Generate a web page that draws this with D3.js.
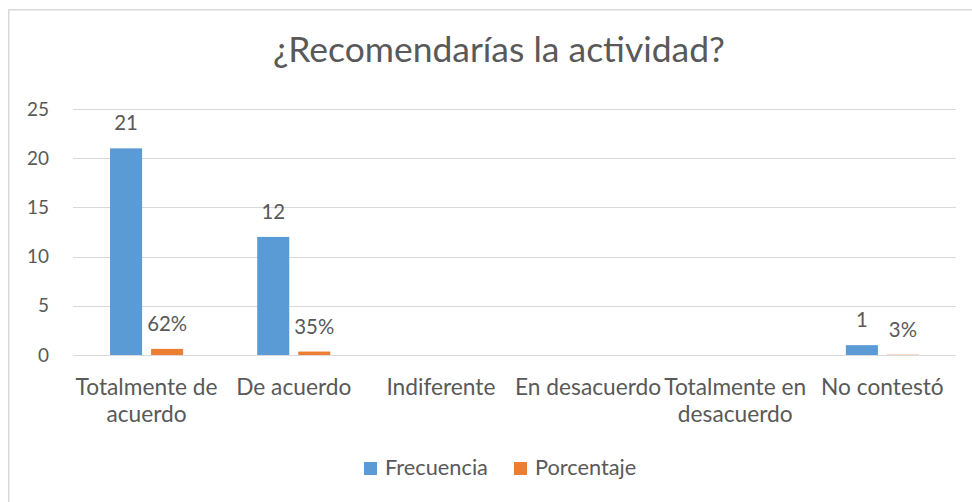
<!DOCTYPE html>
<html><head><meta charset="utf-8">
<script src="https://cdn.jsdelivr.net/npm/d3@7"></script>
<style>html,body{margin:0;padding:0;background:#fff;overflow:hidden}</style>
</head><body>
<svg id="chart" width="972" height="502"></svg>
<script>
const title = "¿Recomendarías la actividad?";
const categories = ["Totalmente de acuerdo","De acuerdo","Indiferente","En desacuerdo","Totalmente en desacuerdo","No contestó"];
const seriesNames = ["Frecuencia","Porcentaje"];
const frecuencia = [21, 12, null, null, null, 1];
const porcentaje = [0.62, 0.35, null, null, null, 0.03];
const yTicks = [0, 5, 10, 15, 20, 25];
const colors = ["#5b9bd5", "#ed7d31"];

(function () {
const FONT = "Lato, 'Open Sans', sans-serif";
const TEXT = "#595959";
const svg = d3.select("#chart");

function fitSize(sample, target) {
  const t = svg.append("text").attr("font-family", FONT).attr("font-size", 100).text(sample);
  const w = t.node().getComputedTextLength();
  t.remove();
  return 100 * target / w;
}
const titleSize = fitSize(title, 452);
const axisSize = fitSize("Totalmente de", 142);
const tickSize = fitSize("25", 22);
const dataSize = fitSize("62%", 40);
const legendSize = fitSize("Frecuencia", 103);

svg.append("rect").attr("x", 8.75).attr("y", 9.75).attr("width", 1100).attr("height", 700)
  .attr("fill", "#fff").attr("stroke", "#d9d9d9").attr("stroke-width", 1.5);

const pL = 73, pR = 956, pT = 109, pB = 355;
const x = d3.scaleBand().domain(categories).range([pL, pR]).paddingInner(0).paddingOuter(0);
const xs = d3.scaleBand().domain(seriesNames).range([0, x.bandwidth()]).paddingInner(0.2195).paddingOuter(0.902);
const y = d3.scaleLinear().domain([0, 25]).range([pB, pT]);

svg.append("text").attr("x", 499).attr("y", 62).attr("text-anchor", "middle")
  .attr("font-family", FONT).attr("font-size", titleSize).attr("fill", TEXT).text(title);

svg.append("g").selectAll("line").data(yTicks).join("line")
  .attr("x1", pL).attr("x2", pR)
  .attr("y1", d => Math.round(y(d)) + 0.5).attr("y2", d => Math.round(y(d)) + 0.5)
  .attr("stroke", "#d9d9d9").attr("stroke-width", 1);

const yAxis = d3.axisLeft(y).tickValues(yTicks).tickSize(0).tickPadding(0);
const ya = svg.append("g").attr("transform", "translate(49,0)").call(yAxis);
ya.select(".domain").remove();
ya.selectAll("text").attr("font-family", FONT).attr("font-size", tickSize).attr("fill", TEXT);

const series = [frecuencia, porcentaje];
series.forEach((vals, si) => {
  const g = svg.append("g");
  const data = categories.map((c, i) => ({c, v: vals[i]})).filter(d => d.v !== null);
  g.selectAll("rect").data(data).join("rect")
    .attr("x", d => x(d.c) + xs(seriesNames[si]))
    .attr("width", xs.bandwidth())
    .attr("y", d => y(d.v))
    .attr("height", d => pB - y(d.v))
    .attr("fill", colors[si]);
  g.selectAll("text").data(data).join("text")
    .attr("x", d => x(d.c) + xs(seriesNames[si]) + xs.bandwidth() / 2)
    .attr("y", d => y(d.v) - 18)
    .attr("text-anchor", "middle")
    .attr("font-family", FONT).attr("font-size", dataSize).attr("fill", TEXT)
    .text(d => si === 0 ? d3.format("d")(d.v) : d3.format(".0%")(d.v));
});

const maxW = x.bandwidth() + 2;
function wrapLines(label) {
  const words = label.split(" ");
  const lines = [];
  let cur = "";
  const t = svg.append("text").attr("font-family", FONT).attr("font-size", axisSize);
  words.forEach(w => {
    const test = cur ? cur + " " + w : w;
    t.text(test);
    if (t.node().getComputedTextLength() > maxW && cur) { lines.push(cur); cur = w; }
    else cur = test;
  });
  if (cur) lines.push(cur);
  t.remove();
  return lines;
}
const xg = svg.append("g");
categories.forEach(c => {
  const t = xg.append("text").attr("text-anchor", "middle")
    .attr("font-family", FONT).attr("font-size", axisSize).attr("fill", TEXT);
  wrapLines(c).forEach((ln, i) => {
    t.append("tspan").attr("x", x(c) + x.bandwidth() / 2).attr("y", 395 + i * 27).text(ln);
  });
});

const legendItems = [{n: seriesNames[0], c: colors[0], x: 364}, {n: seriesNames[1], c: colors[1], x: 514}];
const lg = svg.append("g");
legendItems.forEach(it => {
  lg.append("rect").attr("x", it.x).attr("y", 462).attr("width", 13).attr("height", 13).attr("fill", it.c);
  lg.append("text").attr("x", it.x + 21).attr("y", 475).attr("font-family", FONT)
    .attr("font-size", legendSize).attr("fill", TEXT).text(it.n);
});
})();
</script>
</body></html>
